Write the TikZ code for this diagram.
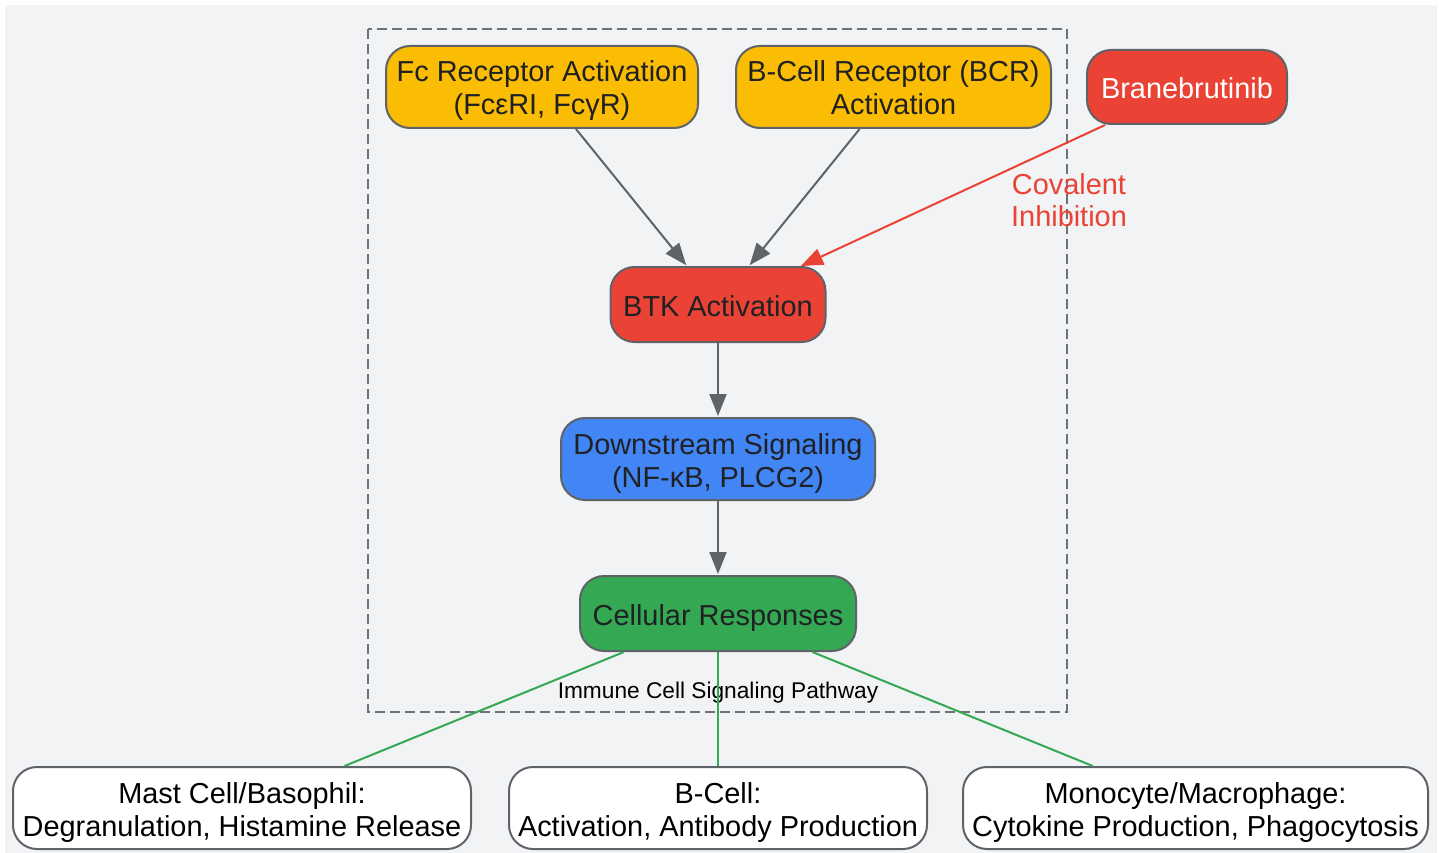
\documentclass[tikz,border=0pt]{standalone}
\usepackage{fontspec}
\setmainfont{Liberation Sans}
\usetikzlibrary{arrows.meta}
\definecolor{bg}{HTML}{F1F3F4}
\definecolor{gyellow}{HTML}{FBBC04}
\definecolor{gred}{HTML}{EA4335}
\definecolor{gblue}{HTML}{4285F4}
\definecolor{ggreen}{HTML}{34A853}
\definecolor{edge}{HTML}{5F6368}
\definecolor{ink}{HTML}{202124}
\newcommand\tline[1]{\raisebox{0pt}[24pt][1pt]{#1}}
\tikzset{
  box/.style={draw=edge, line width=2pt, rounded corners=24pt, align=center, inner sep=0pt,
    text=ink, font=\fontsize{28.9pt}{33pt}\selectfont},
  flow/.style={draw=edge, line width=2pt, -{Triangle[length=22pt,width=17pt]}, shorten >=1pt},
  inhib/.style={draw=gred, line width=2pt, -{Triangle[length=22pt,width=17pt]}},
  greenlink/.style={draw=ggreen, line width=2pt},
}
\begin{document}
\begin{tikzpicture}[x=1pt,y=-1pt]
\useasboundingbox (0,0) rectangle (1442,853);
\fill[white] (0,0) rectangle (1442,853);
\fill[bg] (5,5) rectangle (1437,853);
% cluster
\draw[edge!90, line width=2pt, dash pattern=on 10pt off 5pt] (368,29) rectangle (1067,712);
\node[font=\fontsize{22.7pt}{26pt}\selectfont, text=black, inner sep=0pt] (clabel) at (718,689.5) {\raisebox{0pt}[18pt][1pt]{Immune Cell Signaling Pathway}};
% nodes
\node[box, fill=gyellow, minimum width=312pt, minimum height=82pt] (fc) at (542,87) {\tline{Fc Receptor Activation}\\\tline{(FcεRI, FcγR)}};
\node[box, fill=gyellow, minimum width=315pt, minimum height=82pt] (bcr) at (893.5,87) {\tline{B-Cell Receptor (BCR)}\\\tline{Activation}};
\node[box, fill=gred, text=white, minimum width=200pt, minimum height=74pt] (bran) at (1187,87) {\tline{Branebrutinib}};
\node[box, fill=gred, minimum width=215pt, minimum height=75pt] (btk) at (718,304.5) {\tline{BTK Activation}};
\node[box, fill=gblue, minimum width=314pt, minimum height=82pt] (down) at (718,459) {\tline{Downstream Signaling}\\\tline{(NF-κB, PLCG2)}};
\node[box, fill=ggreen, minimum width=276pt, minimum height=75pt] (cell) at (718,613.5) {\tline{Cellular Responses}};
\node[box, fill=white, text=black, minimum width=458pt, minimum height=82pt] (mast) at (242,808) {\tline{Mast Cell/Basophil:}\\\tline{Degranulation, Histamine Release}};
\node[box, fill=white, text=black, minimum width=418pt, minimum height=82pt] (bcell) at (718,808) {\tline{B-Cell:}\\\tline{Activation, Antibody Production}};
\node[box, fill=white, text=black, minimum width=465pt, minimum height=82pt] (mono) at (1195.5,808) {\tline{Monocyte/Macrophage:}\\\tline{Cytokine Production, Phagocytosis}};
% connectors
\draw[flow] (fc) -- (btk);
\draw[flow] (bcr) -- (btk);
\draw[inhib] (bran) -- (btk);
\node[text=gred, align=center, inner sep=0pt, font=\fontsize{28.9pt}{32pt}\selectfont] (ilabel) at (1069,198.5) {\tline{Covalent}\\\tline{Inhibition}};
\draw[flow] (btk) -- (down);
\draw[flow] (down) -- (cell);
\draw[greenlink] (cell) -- (mast);
\draw[greenlink] (cell) -- (bcell);
\draw[greenlink] (cell) -- (mono);
\end{tikzpicture}
\end{document}
